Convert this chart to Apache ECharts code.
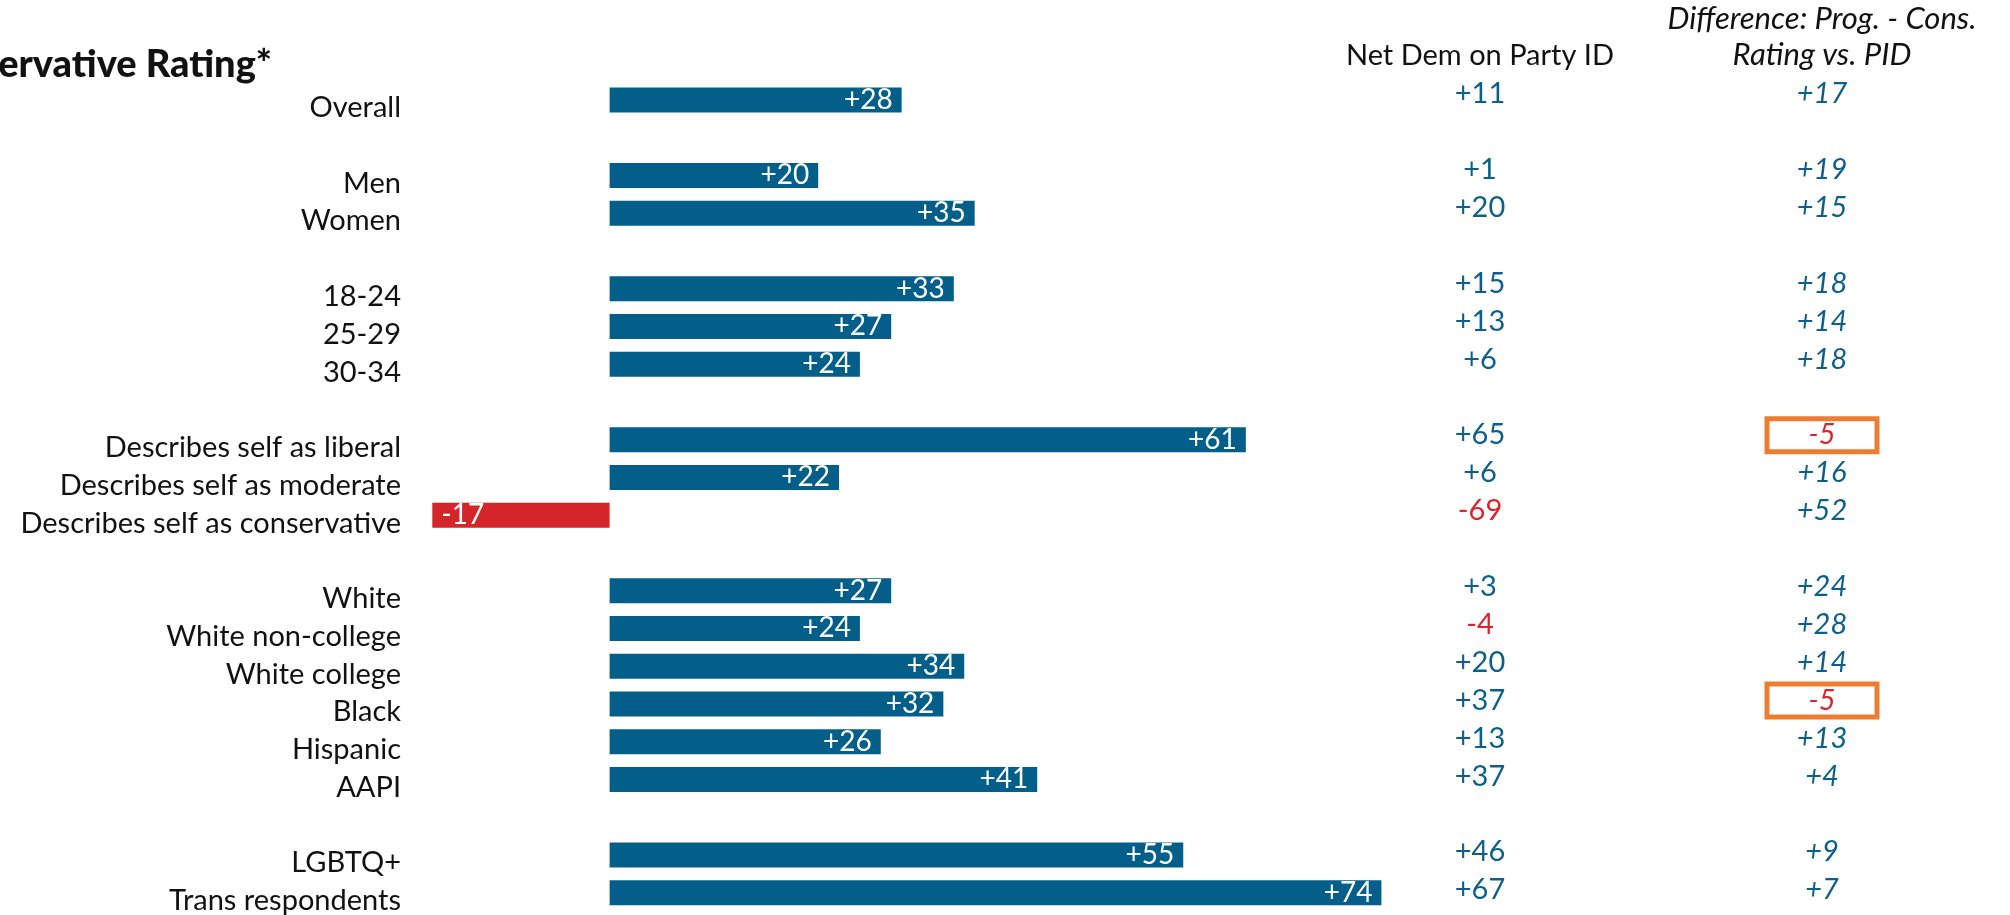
<!DOCTYPE html>
<html>
<head>
<meta charset="utf-8">
<script src="https://cdn.jsdelivr.net/npm/echarts@6/dist/echarts.min.js"></script>
<style>
  html, body { margin: 0; padding: 0; background: #ffffff; }
  #chart { width: 2010px; height: 915px; }
</style>
</head>
<body>
<div id="chart"></div>
<script>
// ---------------- data ----------------
const chartTitle = 'Net Progressive - Conservative Rating*';
const categories = [
  'Overall',
  'Men', 'Women',
  '18-24', '25-29', '30-34',
  'Describes self as liberal', 'Describes self as moderate', 'Describes self as conservative',
  'White', 'White non-college', 'White college', 'Black', 'Hispanic', 'AAPI',
  'LGBTQ+', 'Trans respondents'
];
const groupSizes = [1, 2, 3, 3, 6, 2];
const netRating     = [28, 20, 35, 33, 27, 24, 61, 22, -17, 27, 24, 34, 32, 26, 41, 55, 74];
const netDemPartyID = [11, 1, 20, 15, 13, 6, 65, 6, -69, 3, -4, 20, 37, 13, 37, 46, 67];
const diffRatingPID = [17, 19, 15, 18, 14, 18, -5, 16, 52, 24, 28, 14, -5, 13, 4, 9, 7];
const columnHeaders = ['Net Dem on Party ID', 'Difference: Prog. - Cons.\nRating vs. PID'];
const highlighted = ['Describes self as liberal', 'Black'];

// ---------------- style ----------------
const FONT = 'Lato, "Noto Sans", sans-serif';
const BAR_BLUE = '#035F8A';
const BAR_RED = '#D4252B';
const TXT_BLUE = '#0D5F8B';
const TXT_RED = '#D7262E';
const ORANGE = '#ED7D31';

// build rows with spacer rows between groups
const rows = [];
let ci = 0;
groupSizes.forEach((n, g) => {
  if (g > 0) rows.push({ name: '__gap' + g, gap: true });
  for (let k = 0; k < n; k++, ci++) {
    rows.push({ name: categories[ci], gap: false, i: ci });
  }
});
const rowNames = rows.map(r => r.name);
const fmt = v => (v > 0 ? '+' : '') + v;

const barData = rows.map(r => {
  if (r.gap) return '-';
  const v = netRating[r.i];
  return {
    value: v,
    itemStyle: { color: v < 0 ? BAR_RED : BAR_BLUE },
    label: { position: v < 0 ? 'insideLeft' : 'insideRight' }
  };
});

function colData(values, col, italic) {
  return categories.map((c, i) => {
    const v = values[i];
    const lab = {
      color: v < 0 ? TXT_RED : TXT_BLUE,
      fontStyle: italic ? 'italic' : 'normal'
    };
    if (italic && highlighted.indexOf(c) >= 0) {
      Object.assign(lab, {
        borderColor: ORANGE, borderWidth: 5, padding: [1, 39, 1, 39],
        lineHeight: 26, backgroundColor: '#ffffff'
      });
    }
    return { value: [col, c, v], label: lab };
  });
}

const chart = echarts.init(document.getElementById('chart'));
chart.setOption({
  backgroundColor: '#ffffff',
  animation: false,
  textStyle: { fontFamily: FONT },
  graphic: [{
    type: 'text',
    x: 272, y: 65,
    style: {
      text: chartTitle, textAlign: 'right', textVerticalAlign: 'middle',
      fontFamily: FONT, fontWeight: 900, fontSize: 38, fill: '#111111'
    }
  }],
  grid: [
    { left: 401, width: 1043, top: 81, height: 840 },
    { left: 1309, width: 684, top: 81, height: 840 }
  ],
  xAxis: [
    { type: 'value', gridIndex: 0, min: -20, max: 80, show: false },
    {
      type: 'category', gridIndex: 1, position: 'top', data: columnHeaders,
      axisLine: { show: false }, axisTick: { show: false },
      axisLabel: {
        interval: 0, margin: 8,
        formatter: (v, idx) => idx === 0 ? '{a|' + v + '}' : v.split('\n').map(s => '{b|' + s + '}').join('\n'),
        rich: {
          a: { fontFamily: FONT, fontSize: 29, color: '#111111', lineHeight: 34 },
          b: { fontFamily: FONT, fontSize: 31, color: '#111111', fontStyle: 'italic', lineHeight: 36 }
        }
      }
    }
  ],
  yAxis: [
    {
      type: 'category', gridIndex: 0, inverse: true, data: rowNames,
      axisLine: { show: false, onZero: false }, axisTick: { show: false }, splitLine: { show: false },
      axisLabel: {
        interval: 0, margin: 0, fontFamily: FONT, fontSize: 29, color: '#111111',
        verticalAlign: 'top', lineHeight: 16,
        formatter: v => v.indexOf('__gap') === 0 ? '' : v
      }
    },
    {
      type: 'category', gridIndex: 1, inverse: true, data: rowNames, show: false
    }
  ],
  series: [
    {
      type: 'bar', xAxisIndex: 0, yAxisIndex: 0, barWidth: 25,
      data: barData,
      label: {
        show: true, distance: 9, color: '#ffffff', fontFamily: FONT, fontSize: 28,
        formatter: p => fmt(p.value)
      }
    },
    {
      type: 'scatter', xAxisIndex: 1, yAxisIndex: 1, symbolSize: 2,
      itemStyle: { color: 'rgba(0,0,0,0)', opacity: 1 },
      data: colData(netDemPartyID, 0, false),
      label: {
        show: true, position: 'inside', offset: [0, -6], fontFamily: FONT, fontSize: 29,
        formatter: p => fmt(p.value[2])
      }
    },
    {
      type: 'scatter', xAxisIndex: 1, yAxisIndex: 1, symbolSize: 2,
      itemStyle: { color: 'rgba(0,0,0,0)', opacity: 1 },
      data: colData(diffRatingPID, 1, true),
      label: {
        show: true, position: 'inside', offset: [0, -6], fontFamily: FONT, fontSize: 29,
        formatter: p => fmt(p.value[2])
      }
    }
  ]
});
</script>
</body>
</html>
